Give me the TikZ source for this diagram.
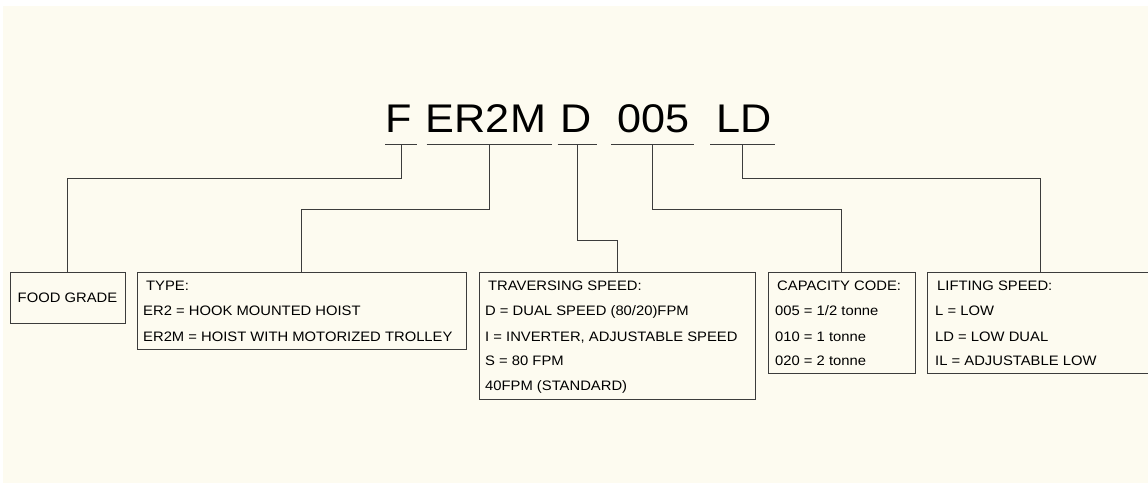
\documentclass[tikz,border=0pt]{standalone}
\usepackage{fontspec}
\setmainfont{Liberation Sans}[FakeStretch=1.08]
\definecolor{bgc}{HTML}{FDFBF0}
\definecolor{linec}{HTML}{3C3C3C}
\begin{document}
\begin{tikzpicture}[x=1pt,y=-1pt,
  box/.style={draw=linec, line width=0.9pt, fill=bgc, inner sep=0pt, anchor=north west,
    font=\fontsize{13.7}{16}\selectfont, text=black},
  conn/.style={draw=linec, line width=0.9pt},
  code/.style={font=\fontsize{40}{40}\selectfont, anchor=base, inner sep=0pt, text=black},
  txt/.style={font=\fontsize{13.7}{16}\selectfont, anchor=base west, inner sep=0pt, text=black},
  uline/.style={inner sep=0pt, minimum height=0pt}]
\useasboundingbox (0,0) rectangle (1148,483);
\begin{scope}
\clip (0,0) rectangle (1148,483);
\fill[bgc] (3,6) rectangle (1148,483);

% code letters
\node[code] (cF) at (398.8,132.7) {F};
\node[code] (cE) at (486,132.7) {ER2M};
\node[code] (cD) at (576,132.7) {D};
\node[code] (c5) at (653.5,132.7) {005};
\node[code] (cL) at (744,132.7) {LD};

% underlines
\node[uline, minimum width=31.6pt] (uF) at (401.2,144) {};
\node[uline, minimum width=125pt] (uE) at (489.2,144) {};
\node[uline, minimum width=39pt] (uD) at (577.3,144) {};
\node[uline, minimum width=82pt] (u5) at (652.5,144) {};
\node[uline, minimum width=64.3pt] (uL) at (742.8,144) {};
\foreach \u in {uF,uE,uD,u5,uL} \draw[conn] (\u.west) -- (\u.east);

% boxes
\node[box, minimum width=115pt, minimum height=51pt] (food) at (9.5,271.5) {FOOD GRADE};
\node[box, minimum width=329pt, minimum height=77pt] (type) at (136.5,271.5) {};
\node[box, minimum width=276.5pt, minimum height=127.5pt] (trav) at (478.5,271.5) {};
\node[box, minimum width=147pt, minimum height=101.5pt] (cap) at (767.5,271.5) {};
\node[box, minimum width=226pt, minimum height=101.5pt] (lift) at (927,271.5) {};

% connectors
\draw[conn] (uF.center) -- ++(0,34) -| (food.north);
\draw[conn] (uE.center) -- ++(0,65) -| (type.north);
\draw[conn] (uD.center) -- ++(0,96) -| (trav.north);
\draw[conn] (u5.center) -- ++(0,65) -| (cap.north);
\draw[conn] (uL.center) -- ++(0,34) -| (lift.north);

% type texts
\node[txt] (ty1) at (146,290.7) {TYPE:};
\node[txt] (ty2) at (143,315.7) {ER2 = HOOK MOUNTED HOIST};
\node[txt] (ty3) at (143,341) {ER2M = HOIST WITH MOTORIZED TROLLEY};

% traversing texts
\node[txt] (tr1) at (488,290.7) {TRAVERSING SPEED:};
\node[txt] (tr2) at (485,315.7) {D = DUAL SPEED (80/20)FPM};
\node[txt] (tr3) at (485,341) {I = INVERTER, ADJUSTABLE SPEED};
\node[txt] (tr4) at (485,365.7) {S = 80 FPM};
\node[txt] (tr5) at (485,390.7) {40FPM (STANDARD)};

% capacity texts
\node[txt] (ca1) at (777,290.7) {CAPACITY CODE:};
\node[txt] (ca2) at (775,315.7) {005 = 1/2 tonne};
\node[txt] (ca3) at (775,341) {010 = 1 tonne};
\node[txt] (ca4) at (775,365.7) {020 = 2 tonne};

% lifting texts
\node[txt] (li1) at (937,290.7) {LIFTING SPEED:};
\node[txt] (li2) at (935,315.7) {L = LOW};
\node[txt] (li3) at (935,341) {LD = LOW DUAL};
\node[txt] (li4) at (935,365.7) {IL = ADJUSTABLE LOW};
\end{scope}
\end{tikzpicture}
\end{document}
